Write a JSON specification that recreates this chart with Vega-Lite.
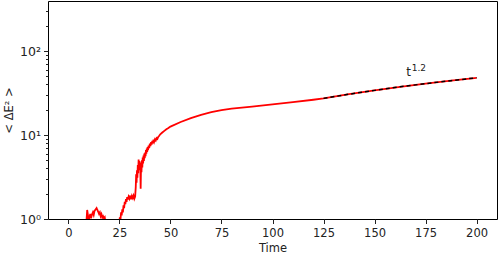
{
  "$schema": "https://vega.github.io/schema/vega-lite/v6.json",
  "autosize": {"type": "none"},
  "width": 449,
  "height": 218,
  "padding": {"left": 48, "top": 1, "right": 1, "bottom": 34},
  "config": {
    "view": {"stroke": "#000000", "strokeWidth": 1},
    "font": "DejaVu Sans",
    "axis": {"domain": false, "grid": false, "labelColor": "#222222", "titleColor": "#222222", "tickColor": "#222222", "labelFont": "DejaVu Sans", "titleFont": "DejaVu Sans", "labelFontSize": 11.5, "titleFontSize": 11.5, "titleFontWeight": "normal"}
  },
  "datasets": {
    "series": [
      {"t": 0, "v": 0.4}, {"t": 2, "v": 0.5}, {"t": 4, "v": 0.45}, {"t": 6, "v": 0.6}, {"t": 8, "v": 0.7},
      {"t": 8.8, "v": 0.9}, {"t": 9.2, "v": 1.28}, {"t": 9.6, "v": 1.1}, {"t": 9.9, "v": 0.95}, {"t": 10.3, "v": 1.05},
      {"t": 10.7, "v": 1.15}, {"t": 11.1, "v": 1.02}, {"t": 11.5, "v": 1.12}, {"t": 12, "v": 1.2}, {"t": 12.4, "v": 1.12},
      {"t": 12.8, "v": 1.25}, {"t": 13.3, "v": 1.3}, {"t": 13.8, "v": 1.35}, {"t": 14.2, "v": 1.28}, {"t": 14.6, "v": 1.22},
      {"t": 15, "v": 1.15}, {"t": 15.4, "v": 1.2}, {"t": 15.8, "v": 1.08}, {"t": 16.2, "v": 1.14}, {"t": 16.6, "v": 1.04},
      {"t": 17, "v": 1.08}, {"t": 17.4, "v": 1.02}, {"t": 17.8, "v": 1.05}, {"t": 18.3, "v": 0.85}, {"t": 19, "v": 0.7},
      {"t": 20, "v": 0.6}, {"t": 21, "v": 0.55}, {"t": 22, "v": 0.65}, {"t": 23, "v": 0.6}, {"t": 24, "v": 0.7},
      {"t": 24.8, "v": 0.85}, {"t": 25.2, "v": 1.05}, {"t": 25.5, "v": 0.98}, {"t": 25.8, "v": 1.2}, {"t": 26.1, "v": 1.1},
      {"t": 26.4, "v": 1.3}, {"t": 26.7, "v": 1.2}, {"t": 27, "v": 1.45}, {"t": 27.3, "v": 1.35}, {"t": 27.6, "v": 1.6},
      {"t": 27.9, "v": 1.5}, {"t": 28.2, "v": 1.72}, {"t": 28.5, "v": 1.6}, {"t": 28.8, "v": 1.82}, {"t": 29.1, "v": 1.7},
      {"t": 29.5, "v": 1.85}, {"t": 29.9, "v": 1.75}, {"t": 30.3, "v": 1.9}, {"t": 30.7, "v": 1.72}, {"t": 31.1, "v": 1.88},
      {"t": 31.5, "v": 1.78}, {"t": 31.9, "v": 1.9}, {"t": 32.3, "v": 1.74}, {"t": 32.7, "v": 1.85}, {"t": 33, "v": 2.4},
      {"t": 33.2, "v": 3.4}, {"t": 33.4, "v": 2.7}, {"t": 33.6, "v": 3.8}, {"t": 33.8, "v": 3.1}, {"t": 34, "v": 4.4},
      {"t": 34.2, "v": 3.5}, {"t": 34.4, "v": 5.1}, {"t": 34.6, "v": 4.0}, {"t": 34.8, "v": 4.9}, {"t": 35, "v": 3.8},
      {"t": 35.2, "v": 4.7}, {"t": 35.4, "v": 2.3}, {"t": 35.6, "v": 4.5}, {"t": 35.8, "v": 3.6}, {"t": 36, "v": 5.0},
      {"t": 36.2, "v": 4.1}, {"t": 36.4, "v": 5.4}, {"t": 36.6, "v": 4.6}, {"t": 36.8, "v": 5.7}, {"t": 37, "v": 4.9},
      {"t": 37.2, "v": 6.0}, {"t": 37.4, "v": 5.3}, {"t": 37.6, "v": 6.2}, {"t": 37.8, "v": 5.6}, {"t": 38, "v": 6.6},
      {"t": 38.2, "v": 6.0}, {"t": 38.4, "v": 6.9}, {"t": 38.6, "v": 6.3}, {"t": 38.8, "v": 7.2}, {"t": 39, "v": 6.6},
      {"t": 39.3, "v": 7.5}, {"t": 39.6, "v": 7.0}, {"t": 39.9, "v": 7.9}, {"t": 40.2, "v": 7.4}, {"t": 40.5, "v": 8.2},
      {"t": 40.8, "v": 7.7}, {"t": 41.1, "v": 8.5}, {"t": 41.4, "v": 8.0}, {"t": 41.7, "v": 8.8}, {"t": 42, "v": 8.3},
      {"t": 42.4, "v": 8.9}, {"t": 42.8, "v": 8.6}, {"t": 43.2, "v": 9.2}, {"t": 43.6, "v": 9.0}, {"t": 44, "v": 9.5},
      {"t": 44.5, "v": 9.8}, {"t": 45, "v": 10.2}, {"t": 46, "v": 10.7},
      {"t": 47, "v": 11.2}, {"t": 48, "v": 11.7}, {"t": 49, "v": 12.1}, {"t": 50, "v": 12.6}, {"t": 55, "v": 14.3},
      {"t": 60, "v": 15.9}, {"t": 65, "v": 17.4}, {"t": 70, "v": 18.7}, {"t": 75, "v": 19.8}, {"t": 80, "v": 20.6},
      {"t": 90, "v": 21.8}, {"t": 100, "v": 23.2}, {"t": 110, "v": 24.7}, {"t": 120, "v": 26.3}, {"t": 125, "v": 27.3},
      {"t": 137.5, "v": 30.6}, {"t": 150, "v": 34.0}, {"t": 162.5, "v": 37.5}, {"t": 175, "v": 40.9}, {"t": 187.5, "v": 44.4},
      {"t": 200, "v": 48.0}
    ],
    "fit": [
      {"t": 125, "v": 27.3}, {"t": 137.5, "v": 30.6}, {"t": 150, "v": 34.0}, {"t": 162.5, "v": 37.5},
      {"t": 175, "v": 40.9}, {"t": 187.5, "v": 44.4}, {"t": 200, "v": 48.0}
    ],
    "label": [{"t": 165.5, "v": 51, "base": "t", "exp": "1.2"}]
  },
  "encoding": {
    "x": {
      "field": "t", "type": "quantitative",
      "scale": {"domain": [-10, 210], "nice": false, "zero": false},
      "axis": {"title": "Time", "values": [0, 25, 50, 75, 100, 125, 150, 175, 200], "tickSize": 4.5, "labelPadding": 4, "titlePadding": 3}
    },
    "y": {
      "field": "v", "type": "quantitative",
      "scale": {"type": "log", "domain": [1, 394], "nice": false},
      "axis": {
        "title": "< ΔE² >",
        "values": [1, 2, 3, 4, 5, 6, 7, 8, 9, 10, 20, 30, 40, 50, 60, 70, 80, 90, 100, 200, 300],
        "labelExpr": "datum.value == 1 ? '10⁰' : datum.value == 10 ? '10¹' : datum.value == 100 ? '10²' : ''",
        "labelFontSize": 12.5,
        "tickSize": {"condition": {"test": "datum.value == 1 || datum.value == 10 || datum.value == 100", "value": 4.5}, "value": 2.5},
        "labelPadding": 3,
        "titlePadding": 5
      }
    }
  },
  "layer": [
    {
      "data": {"name": "series"},
      "mark": {"type": "line", "color": "#ff0000", "strokeWidth": 1.8, "clip": true, "interpolate": "linear"}
    },
    {
      "data": {"name": "fit"},
      "mark": {"type": "line", "color": "#000000", "strokeWidth": 1.5, "strokeDash": [4, 3], "clip": true}
    },
    {
      "data": {"name": "label"},
      "mark": {"type": "text", "fontSize": 12, "color": "#222222", "align": "left", "baseline": "alphabetic", "font": "DejaVu Sans"},
      "encoding": {"text": {"field": "base"}}
    },
    {
      "data": {"name": "label"},
      "mark": {"type": "text", "fontSize": 9, "color": "#222222", "align": "left", "baseline": "alphabetic", "dx": 5.5, "dy": -5, "font": "DejaVu Sans"},
      "encoding": {"text": {"field": "exp"}}
    }
  ]
}
